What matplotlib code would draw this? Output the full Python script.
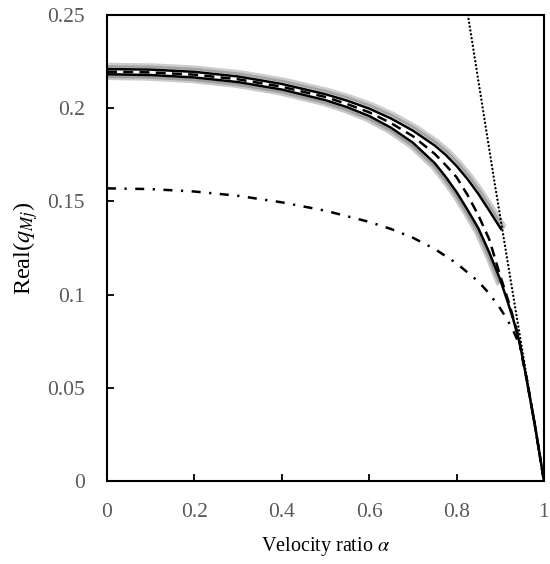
import matplotlib
matplotlib.use("Agg")
import matplotlib.pyplot as plt
import matplotlib.patheffects as pe

plt.rcParams['font.family'] = ['Liberation Serif', 'DejaVu Serif']
plt.rcParams['mathtext.fontset'] = 'stix'

# curva continua superiore (si ferma a alpha = 0.9)
alpha_a = [0, 0.1, 0.2, 0.3, 0.4, 0.5, 0.55, 0.6, 0.65, 0.7, 0.75, 0.775, 0.8, 0.825, 0.85, 0.875, 0.903]
q_a = [0.2210, 0.2207, 0.2195, 0.2170, 0.2130, 0.2075, 0.2040, 0.1998, 0.1945, 0.1880, 0.1800, 0.1750,
       0.1690, 0.1620, 0.1540, 0.1450, 0.1347]

# curva continua inferiore (fino a alpha = 1)
alpha_b = [0, 0.1, 0.2, 0.3, 0.4, 0.5, 0.55, 0.6, 0.65, 0.7, 0.75, 0.775, 0.8, 0.825, 0.85, 0.875,
           0.9, 0.915, 0.93, 0.945, 0.96, 0.98, 1.0]
q_b = [0.2182, 0.2178, 0.2165, 0.2140, 0.2100, 0.2043, 0.2005, 0.1958, 0.1895, 0.1815, 0.1705, 0.1632,
       0.1550, 0.1455, 0.1355, 0.1225, 0.1080, 0.0975, 0.0865, 0.0735, 0.0550, 0.0290, 0.0]

# tratteggiata
alpha_c = [0, 0.1, 0.2, 0.3, 0.4, 0.5, 0.55, 0.6, 0.65, 0.7, 0.75, 0.775, 0.8, 0.825, 0.85, 0.875,
           0.9, 0.92, 0.94, 0.96, 0.98, 1.0]
q_c = [0.2196, 0.2192, 0.2180, 0.2155, 0.2115, 0.2060, 0.2022, 0.1978, 0.1920, 0.1850, 0.1755, 0.1695,
       0.1630, 0.1535, 0.1425, 0.1295, 0.1100, 0.0955, 0.0790, 0.0555, 0.0290, 0.0]

# tratto-punto
alpha_d = [0, 0.1, 0.2, 0.3, 0.4, 0.5, 0.6, 0.65, 0.7, 0.75, 0.8, 0.85, 0.875, 0.9, 0.915, 0.93,
           0.945, 0.96, 0.98, 1.0]
q_d = [0.1570, 0.1566, 0.1553, 0.1530, 0.1495, 0.1450, 0.1390, 0.1352, 0.1305, 0.1245, 0.1168, 0.1070,
       0.1005, 0.0925, 0.0870, 0.0805, 0.0725, 0.0550, 0.0290, 0.0]

# punteggiata (quasi retta)
alpha_e = [0.826, 0.885, 0.93, 1.0]
q_e = [0.25, 0.163, 0.099, 0.0]

x_ticks = [0, 0.2, 0.4, 0.6, 0.8, 1.0]
x_labels = ["0", "0.2", "0.4", "0.6", "0.8", "1"]
y_ticks = [0, 0.05, 0.1, 0.15, 0.2, 0.25]
y_labels = ["0", "0.05", "0.1", "0.15", "0.2", "0.25"]

fig = plt.figure(figsize=(5.5, 5.64), dpi=100)
ax = fig.add_axes([0.1945, 0.1472, 0.7945, 0.8262])

# fasce grigie attorno alle curve continue
gray_a = [pe.Stroke(offset=(2.2, 3.4), linewidth=2.2, foreground="#cdcdcd"),
          pe.Stroke(offset=(1.2, 1.9), linewidth=2.0, foreground="#a4a4a4")]
gray_b = [pe.Stroke(offset=(-2.0, -3.0), linewidth=2.2, foreground="#cacaca"),
          pe.Stroke(offset=(-1.0, -1.7), linewidth=2.0, foreground="#a0a0a0")]

n_gray = 17
ax.plot(alpha_b[:n_gray], q_b[:n_gray], color="none", path_effects=gray_b)
ax.plot(alpha_a, q_a, color="none", path_effects=gray_a)

ax.plot(alpha_a, q_a, color="black", lw=1.8, solid_capstyle="butt")
ax.plot(alpha_b, q_b, color="black", lw=1.8)
ax.plot(alpha_c, q_c, color="black", lw=1.8, linestyle=(0, (4.0, 2.5)))
ax.plot(alpha_d, q_d, color="black", lw=1.8, linestyle=(0, (3.6, 3.4, 0.9, 3.4)))
ax.plot(alpha_e, q_e, color="black", lw=1.7, linestyle=(0, (0.05, 1.6)), dash_capstyle="round")

ax.set_xlim(0, 1)
ax.set_ylim(0, 0.25)
ax.set_xticks(x_ticks)
ax.set_xticklabels(x_labels)
ax.set_yticks(y_ticks)
ax.set_yticklabels(y_labels)
ax.tick_params(direction="in", length=5, width=1.3, labelsize=15.5, labelcolor="#5a5a5a")
ax.tick_params(axis="x", pad=16)
ax.tick_params(axis="y", pad=16)
for s in ax.spines.values():
    s.set_linewidth(1.5)

ax.set_xlabel(r"Velocity ratio $\alpha$", fontsize=14.5)
ax.set_ylabel(r"Real($q_{Mj}$)", fontsize=17.5)
ax.xaxis.set_label_coords(0.5, -0.116)
ax.yaxis.set_label_coords(-0.154, 0.5)

fig.savefig("out.png", dpi=100)
